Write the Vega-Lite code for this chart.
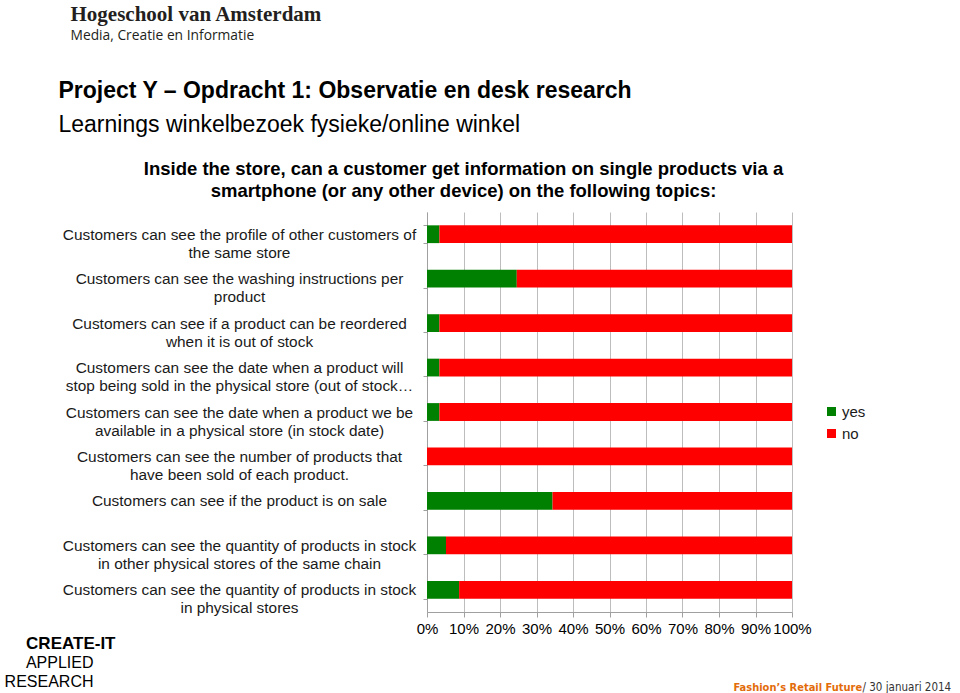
{
  "$schema": "https://vega.github.io/schema/vega-lite/v6.json",
  "width": 365,
  "height": 400,
  "autosize": {"type": "none"},
  "padding": {"left": 427, "top": 212, "right": 168, "bottom": 81},
  "background": "white",
  "data": {
    "values": [
      {"topic": "Customers can see the profile of other customers of\nthe same store", "answer": "yes", "pct": 3.4},
      {"topic": "Customers can see the profile of other customers of\nthe same store", "answer": "no", "pct": 96.6},
      {"topic": "Customers can see the washing instructions per\nproduct", "answer": "yes", "pct": 24.6},
      {"topic": "Customers can see the washing instructions per\nproduct", "answer": "no", "pct": 75.4},
      {"topic": "Customers can see if a product can be reordered\nwhen it is out of stock", "answer": "yes", "pct": 3.4},
      {"topic": "Customers can see if a product can be reordered\nwhen it is out of stock", "answer": "no", "pct": 96.6},
      {"topic": "Customers can see the date when a product will\nstop being sold in the physical store (out of stock…", "answer": "yes", "pct": 3.4},
      {"topic": "Customers can see the date when a product will\nstop being sold in the physical store (out of stock…", "answer": "no", "pct": 96.6},
      {"topic": "Customers can see the date when a product we be\navailable in a physical store (in stock date)", "answer": "yes", "pct": 3.4},
      {"topic": "Customers can see the date when a product we be\navailable in a physical store (in stock date)", "answer": "no", "pct": 96.6},
      {"topic": "Customers can see the number of products that\nhave been sold of each product.", "answer": "yes", "pct": 0},
      {"topic": "Customers can see the number of products that\nhave been sold of each product.", "answer": "no", "pct": 100},
      {"topic": "Customers can see if the product is on sale", "answer": "yes", "pct": 34.4},
      {"topic": "Customers can see if the product is on sale", "answer": "no", "pct": 65.6},
      {"topic": "Customers can see the quantity of products in stock\nin other physical stores of the same chain", "answer": "yes", "pct": 5.2},
      {"topic": "Customers can see the quantity of products in stock\nin other physical stores of the same chain", "answer": "no", "pct": 94.8},
      {"topic": "Customers can see the quantity of products in stock\nin physical stores", "answer": "yes", "pct": 8.8},
      {"topic": "Customers can see the quantity of products in stock\nin physical stores", "answer": "no", "pct": 91.2}
    ]
  },
  "layer": [
    {
      "mark": {"type": "bar"},
      "encoding": {
        "y": {
          "field": "topic", "type": "nominal", "sort": null,
          "scale": {"paddingInner": 0.6, "paddingOuter": 0.3},
          "axis": {
            "orient": "left",
            "title": "Hogeschool van Amsterdam",
            "titleX": -357, "titleY": -192, "titleAngle": 0, "titleAlign": "left", "titleBaseline": "alphabetic",
            "titleFont": "Liberation Serif", "titleFontSize": 21, "titleFontWeight": "bold", "titleColor": "#231f20",
            "labelExpr": "split(datum.label, '\\n')",
            "labelAlign": "center", "labelBaseline": "middle", "labelFontSize": 15.4, "labelLineHeight": 18,
            "labelColor": "#1a1a1a", "labelLimit": 0, "labelPadding": 184,
            "tickBand": "extent", "tickSize": 4, "tickColor": "#a0a0a0", "domainColor": "#a0a0a0", "grid": false
          }
        },
        "x": {
          "field": "pct", "type": "quantitative", "stack": "normalize",
          "axis": {
            "orient": "bottom", "format": "%",
            "values": [0, 0.1, 0.2, 0.3, 0.4, 0.5, 0.6, 0.7, 0.8, 0.9, 1],
            "labelFontSize": 15, "labelColor": "#000000", "labelPadding": 4, "labelOverlap": false, "labelFlush": false,
            "tickSize": 5, "tickColor": "#a0a0a0", "domainColor": "#a0a0a0",
            "grid": true, "gridColor": "#bdbdbd",
            "title": "Fashion’s Retail Future",
            "titleX": 306, "titleY": 78, "titleAlign": "left", "titleBaseline": "alphabetic",
            "titleFont": "DejaVu Sans Condensed", "titleFontSize": 11, "titleFontWeight": "bold", "titleColor": "#E36C0A"
          }
        },
        "color": {
          "field": "answer", "type": "nominal",
          "scale": {"domain": ["yes", "no"], "range": ["#008000", "#FF0000"]},
          "legend": {
            "title": null, "orient": "none", "legendX": 397, "legendY": 192,
            "symbolType": "square", "symbolSize": 81, "symbolStrokeWidth": 0,
            "labelFontSize": 15, "labelColor": "#1a1a1a", "rowPadding": 6, "labelOffset": 3
          }
        },
        "order": {"field": "answer", "sort": "descending"}
      }
    },
    {
      "mark": {"type": "bar", "opacity": 0},
      "encoding": {
        "y": {
          "field": "topic", "type": "nominal", "sort": null,
          "axis": {
            "orient": "right", "labels": false, "ticks": false, "domain": false, "grid": false,
            "title": "Media, Creatie en Informatie",
            "titleX": -722, "titleY": -173, "titleAngle": 0, "titleAlign": "left", "titleBaseline": "alphabetic",
            "titleFont": "Open Sans", "titleFontSize": 13.8, "titleFontWeight": "normal", "titleColor": "#231f20"
          }
        },
        "x": {
          "field": "pct", "type": "quantitative", "stack": "normalize",
          "axis": {
            "orient": "top", "labels": false, "ticks": false, "domain": false, "grid": false,
            "title": ["Inside the store, can a customer get information on single products via a", "smartphone (or any other device) on the following topics:"],
            "titleX": 36, "titleY": -38, "titleAlign": "center", "titleBaseline": "alphabetic", "titleLineHeight": 22,
            "titleFont": "Liberation Sans", "titleFontSize": 18.5, "titleFontWeight": "bold", "titleColor": "#000000"
          }
        }
      }
    },
    {
      "mark": {"type": "bar", "opacity": 0},
      "encoding": {
        "y": {
          "field": "topic", "type": "nominal", "sort": null,
          "axis": {
            "orient": "right", "labels": false, "ticks": false, "domain": false, "grid": false,
            "title": "Learnings winkelbezoek fysieke/online winkel",
            "titleX": -734, "titleY": -81, "titleAngle": 0, "titleAlign": "left", "titleBaseline": "alphabetic",
            "titleFont": "Liberation Sans", "titleFontSize": 23, "titleFontWeight": "normal", "titleColor": "#000000"
          }
        },
        "x": {
          "field": "pct", "type": "quantitative", "stack": "normalize",
          "axis": {
            "orient": "top", "labels": false, "ticks": false, "domain": false, "grid": false,
            "title": "Project Y – Opdracht 1: Observatie en desk research",
            "titleX": -369, "titleY": -115, "titleAlign": "left", "titleBaseline": "alphabetic",
            "titleFont": "Liberation Sans", "titleFontSize": 23, "titleFontWeight": "bold", "titleColor": "#000000"
          }
        }
      }
    },
    {
      "mark": {"type": "bar", "opacity": 0},
      "encoding": {
        "y": {
          "field": "topic", "type": "nominal", "sort": null,
          "axis": {
            "orient": "left", "labels": false, "ticks": false, "domain": false, "grid": false,
            "title": "CREATE-IT",
            "titleX": -312, "titleY": 436, "titleAngle": 0, "titleAlign": "right", "titleBaseline": "alphabetic",
            "titleFont": "Liberation Sans", "titleFontSize": 17, "titleFontWeight": "bold", "titleColor": "#000000"
          }
        },
        "x": {
          "field": "pct", "type": "quantitative", "stack": "normalize",
          "axis": {
            "orient": "bottom", "labels": false, "ticks": false, "domain": false, "grid": false,
            "title": "/ 30 januari 2014",
            "titleX": 435, "titleY": 78, "titleAlign": "left", "titleBaseline": "alphabetic",
            "titleFont": "DejaVu Sans Condensed", "titleFontSize": 11.5, "titleFontWeight": "normal", "titleColor": "#333333"
          }
        }
      }
    },
    {
      "mark": {"type": "bar", "opacity": 0},
      "encoding": {
        "y": {"field": "topic", "type": "nominal", "sort": null, "axis": null},
        "x": {
          "field": "pct", "type": "quantitative", "stack": "normalize",
          "axis": {
            "orient": "bottom", "labels": false, "ticks": false, "domain": false, "grid": false,
            "title": ["APPLIED", "RESEARCH"],
            "titleX": -334, "titleY": 55, "titleAlign": "right", "titleBaseline": "alphabetic", "titleLineHeight": 19,
            "titleFont": "Liberation Sans", "titleFontSize": 16, "titleFontWeight": "normal", "titleColor": "#000000"
          }
        }
      }
    }
  ],
  "resolve": {"axis": {"x": "independent", "y": "independent"}},
  "config": {
    "view": {"stroke": null},
    "font": "Liberation Sans"
  }
}
